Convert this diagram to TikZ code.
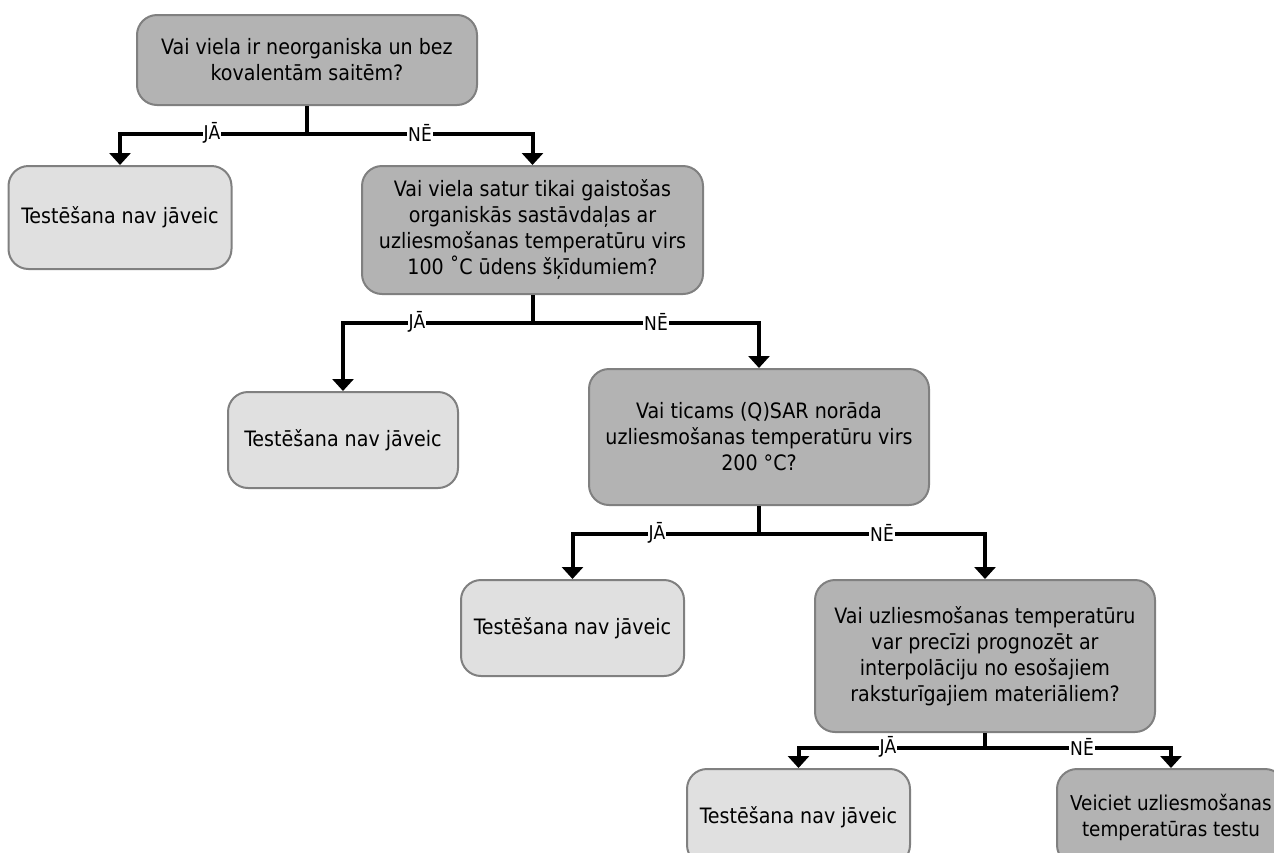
\documentclass[tikz,border=0pt]{standalone}
\usepackage{fontspec}
\setmainfont{DejaVu Sans Condensed}
\usetikzlibrary{arrows.meta}
\definecolor{qfill}{RGB}{179,179,179}
\definecolor{afill}{RGB}{224,224,224}
\definecolor{edge}{RGB}{128,128,128}
\begin{document}
\begin{tikzpicture}[x=1pt,y=-1pt,
  box/.style={draw=edge,line width=2pt,rounded corners=20pt,align=center,
    inner sep=0pt,font=\fontsize{21.2}{26}\selectfont},
  question/.style={box,fill=qfill},
  answer/.style={box,fill=afill},
  conn/.style={line width=4pt,-{Triangle[width=21pt,length=12pt]}},
  lbl/.style={fill=white,inner sep=1pt,font=\fontsize{19}{22}\selectfont}]
\useasboundingbox (0,0) rectangle (1274,852);
\clip (0,0) rectangle (1274,852);

% decision boxes and outcomes
\node[question,minimum width=340pt,minimum height=90pt] (q1) at (307,60)
  {Vai viela ir neorganiska un bez\\kovalentām saitēm?};
\node[answer,minimum width=223pt,minimum height=103pt] (a1) at (120,217.5)
  {Testēšana nav jāveic};
\node[question,minimum width=341pt,minimum height=128pt] (q2) at (532.5,230)
  {Vai viela satur tikai gaistošas\\organiskās sastāvdaļas ar\\uzliesmošanas temperatūru virs\\100 ˚C ūdens šķīdumiem?};
\node[answer,minimum width=230pt,minimum height=96pt] (a2) at (343,440)
  {Testēšana nav jāveic};
\node[question,minimum width=340pt,minimum height=136pt] (q3) at (759,437)
  {Vai ticams (Q)SAR norāda\\uzliesmošanas temperatūru virs\\200 °C?};
\node[answer,minimum width=223pt,minimum height=96pt] (a3) at (572.5,628)
  {Testēšana nav jāveic};
\node[question,minimum width=340pt,minimum height=152pt] (q4) at (985,656)
  {Vai uzliesmošanas temperatūru\\var precīzi prognozēt ar\\interpolāciju no esošajiem\\raksturīgajiem materiāliem?};
\node[answer,minimum width=223pt,minimum height=96pt] (a4) at (798.5,817)
  {Testēšana nav jāveic};
\node[question,minimum width=228pt,minimum height=96pt,
  font=\fontsize{20.4}{26}\selectfont] (t4) at (1171,817)
  {Veiciet uzliesmošanas\\temperatūras testu};

% branches
\draw[conn] (q1.south) -- ++(0,28) -| (a1.north);
\draw[conn] (q1.south) -- ++(0,28) -| (q2.north);
\draw[conn] (q2.south) -- ++(0,28) -| (a2.north);
\draw[conn] (q2.south) -- ++(0,28) -| (q3.north);
\draw[conn] (q3.south) -- ++(0,28) -| (a3.north);
\draw[conn] (q3.south) -- ++(0,28) -| (q4.north);
\draw[conn] (q4.south) -- ++(0,15) -| (a4.north);
\draw[conn] (q4.south) -- ++(0,15) -| (t4.north);

% branch labels
\node[lbl] (l1y) at (212,133) {JĀ};
\node[lbl] (l1n) at (420,133) {NĒ};
\node[lbl] (l2y) at (417,322) {JĀ};
\node[lbl] (l2n) at (656,322) {NĒ};
\node[lbl] (l3y) at (657,533) {JĀ};
\node[lbl] (l3n) at (882,533) {NĒ};
\node[lbl] (l4y) at (888,747) {JĀ};
\node[lbl] (l4n) at (1082,747) {NĒ};
\end{tikzpicture}
\end{document}
